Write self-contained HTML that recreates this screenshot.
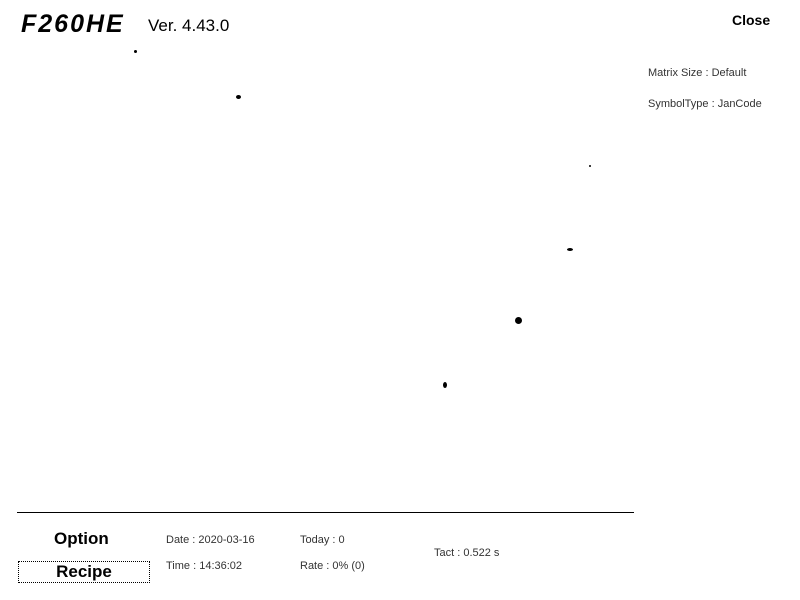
<!DOCTYPE html>
<html><head><meta charset="utf-8"><style>
body{margin:0;width:800px;height:600px;background:#fff;position:relative;overflow:hidden;font-family:"Liberation Sans",sans-serif;color:#000}
.a{position:absolute;white-space:nowrap}
.s{font-size:11px;color:#333}
.d{position:absolute;background:#000;border-radius:50%}
</style></head><body>
<div class="a" style="left:21px;top:10px;font-size:25px;font-weight:bold;font-style:italic;letter-spacing:2px">F260HE</div>
<div class="a" style="left:148px;top:16px;font-size:17px">Ver. 4.43.0</div>
<div class="a" style="left:732px;top:12px;font-size:14px;font-weight:bold">Close</div>
<div class="a s" style="left:648px;top:67px">Matrix Size : Default</div>
<div class="a s" style="left:648px;top:98px">SymbolType : JanCode</div>
<div class="d" style="left:236px;top:95px;width:5px;height:4px"></div>
<div class="d" style="left:515px;top:317px;width:7px;height:7px"></div>
<div class="d" style="left:443px;top:382px;width:4px;height:6px"></div>
<div class="d" style="left:567px;top:248px;width:6px;height:3px"></div>
<div class="d" style="left:589px;top:165px;width:2px;height:2px"></div>
<div class="d" style="left:134px;top:50px;width:3px;height:3px"></div>
<div class="a" style="left:17px;top:512px;width:617px;height:1px;background:#000"></div>
<div class="a" style="left:54px;top:529px;font-size:17px;font-weight:bold">Option</div>
<div class="a" style="left:18px;top:561px;width:130px;height:20px;border:1px dotted #000;text-align:center;font-size:17px;font-weight:bold;line-height:20px">Recipe</div>
<div class="a s" style="left:166px;top:534px">Date : 2020-03-16</div>
<div class="a s" style="left:166px;top:560px">Time : 14:36:02</div>
<div class="a s" style="left:300px;top:534px">Today : 0</div>
<div class="a s" style="left:300px;top:560px">Rate : 0% (0)</div>
<div class="a s" style="left:434px;top:547px">Tact : 0.522 s</div>
</body></html>
